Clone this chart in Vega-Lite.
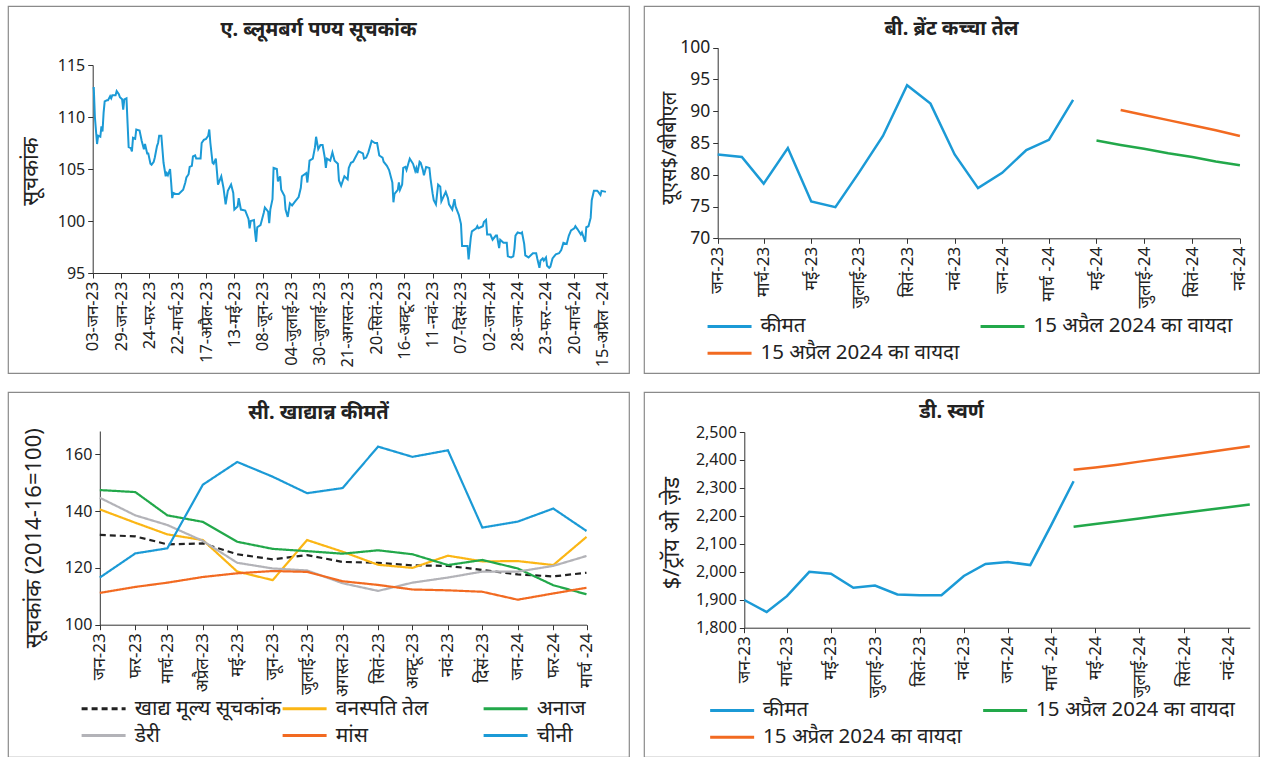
{
  "$schema": "https://vega.github.io/schema/vega-lite/v6.json",
  "background": "white",
  "padding": {"left": 7, "top": 5, "right": 0, "bottom": 0},
  "columns": 2,
  "spacing": {"row": 19, "column": 15},
  "bounds": "flush",
  "align": "each",
  "resolve": {"scale": {"color": "independent", "strokeDash": "independent"}, "legend": {"color": "independent", "strokeDash": "independent"}},
  "config": {
    "view": {"stroke": "#8a8a8a", "strokeWidth": 1.2},
    "font": "Noto Sans",
    "axis": {"grid": false, "domainColor": "#333333", "tickColor": "#333333", "labelColor": "#222222", "labelFont": "Liberation Sans Narrow, Noto Sans", "labelFontSize": 15, "titleFont": "Noto Sans", "titleFontWeight": "normal", "titleFontSize": 20, "titleColor": "#222222", "tickSize": 5, "labelFlush": false, "labelOverlap": false, "labelPadding": 3},
    "legend": {"labelFont": "Noto Sans", "labelColor": "#222222", "labelFontSize": 20.5, "symbolType": "M-3,0H3", "symbolSize": 215, "symbolStrokeWidth": 3, "labelOffset": 20.7, "padding": 0, "gridAlign": "all", "labelLimit": 400, "direction": "horizontal"},
    "title": {"font": "Noto Sans", "fontSize": 20, "fontWeight": "bold", "color": "#222222", "anchor": "middle", "baseline": "middle"}
  },
  "datasets": {
    "bloomberg": [
      {"date": "2023-01-03", "value": 112.8}, {"date": "2023-01-04", "value": 112.8}, {"date": "2023-01-05", "value": 110.0}, {"date": "2023-01-07", "value": 107.4}, {"date": "2023-01-08", "value": 108.2}, {"date": "2023-01-10", "value": 108.1}, {"date": "2023-01-11", "value": 109.1}, {"date": "2023-01-12", "value": 108.6}, {"date": "2023-01-13", "value": 110.4}, {"date": "2023-01-14", "value": 111.5}, {"date": "2023-01-16", "value": 111.6}, {"date": "2023-01-17", "value": 111.6}, {"date": "2023-01-19", "value": 112.0}, {"date": "2023-01-20", "value": 111.8}, {"date": "2023-01-21", "value": 112.1}, {"date": "2023-01-24", "value": 112.1}, {"date": "2023-01-25", "value": 112.5}, {"date": "2023-01-27", "value": 112.2}, {"date": "2023-01-28", "value": 111.9}, {"date": "2023-01-30", "value": 111.7}, {"date": "2023-01-31", "value": 110.7},
      {"date": "2023-02-01", "value": 111.7}, {"date": "2023-02-03", "value": 111.8}, {"date": "2023-02-04", "value": 109.4}, {"date": "2023-02-05", "value": 107.1}, {"date": "2023-02-07", "value": 107.0}, {"date": "2023-02-08", "value": 106.7}, {"date": "2023-02-09", "value": 108.0}, {"date": "2023-02-11", "value": 107.9}, {"date": "2023-02-12", "value": 108.8}, {"date": "2023-02-15", "value": 108.7}, {"date": "2023-02-17", "value": 107.7}, {"date": "2023-02-19", "value": 106.9}, {"date": "2023-02-20", "value": 107.4}, {"date": "2023-02-22", "value": 106.5}, {"date": "2023-02-23", "value": 106.5}, {"date": "2023-02-25", "value": 105.5}, {"date": "2023-02-26", "value": 105.4}, {"date": "2023-02-28", "value": 105.7},
      {"date": "2023-03-01", "value": 106.1}, {"date": "2023-03-03", "value": 107.2}, {"date": "2023-03-04", "value": 107.5}, {"date": "2023-03-05", "value": 108.2}, {"date": "2023-03-07", "value": 108.2}, {"date": "2023-03-09", "value": 105.6}, {"date": "2023-03-11", "value": 104.3}, {"date": "2023-03-12", "value": 104.6}, {"date": "2023-03-13", "value": 104.4}, {"date": "2023-03-15", "value": 105.0}, {"date": "2023-03-16", "value": 103.7}, {"date": "2023-03-17", "value": 102.2}, {"date": "2023-03-18", "value": 102.7}, {"date": "2023-03-20", "value": 102.6}, {"date": "2023-03-23", "value": 102.6}, {"date": "2023-03-26", "value": 102.9}, {"date": "2023-03-27", "value": 103.0}, {"date": "2023-03-29", "value": 103.7}, {"date": "2023-03-30", "value": 104.2},
      {"date": "2023-04-01", "value": 104.5}, {"date": "2023-04-02", "value": 105.2}, {"date": "2023-04-04", "value": 105.3}, {"date": "2023-04-05", "value": 106.2}, {"date": "2023-04-07", "value": 106.3}, {"date": "2023-04-08", "value": 106.0}, {"date": "2023-04-12", "value": 106.0}, {"date": "2023-04-13", "value": 107.5}, {"date": "2023-04-15", "value": 107.8}, {"date": "2023-04-17", "value": 107.9}, {"date": "2023-04-19", "value": 108.2}, {"date": "2023-04-20", "value": 108.8}, {"date": "2023-04-21", "value": 107.5}, {"date": "2023-04-23", "value": 105.6}, {"date": "2023-04-24", "value": 105.5}, {"date": "2023-04-26", "value": 106.0}, {"date": "2023-04-27", "value": 104.8}, {"date": "2023-04-28", "value": 103.5},
      {"date": "2023-05-01", "value": 104.3}, {"date": "2023-05-03", "value": 103.2}, {"date": "2023-05-05", "value": 101.6}, {"date": "2023-05-07", "value": 102.9}, {"date": "2023-05-10", "value": 103.5}, {"date": "2023-05-12", "value": 102.7}, {"date": "2023-05-13", "value": 101.1}, {"date": "2023-05-16", "value": 101.4}, {"date": "2023-05-17", "value": 102.2}, {"date": "2023-05-19", "value": 101.1}, {"date": "2023-05-23", "value": 101.0}, {"date": "2023-05-26", "value": 100.2}, {"date": "2023-05-27", "value": 99.3}, {"date": "2023-05-28", "value": 100.0}, {"date": "2023-05-31", "value": 100.1},
      {"date": "2023-06-01", "value": 98.9}, {"date": "2023-06-02", "value": 98.0}, {"date": "2023-06-03", "value": 99.4}, {"date": "2023-06-06", "value": 99.6}, {"date": "2023-06-09", "value": 100.8}, {"date": "2023-06-10", "value": 101.3}, {"date": "2023-06-13", "value": 100.9}, {"date": "2023-06-14", "value": 99.8}, {"date": "2023-06-15", "value": 101.1}, {"date": "2023-06-17", "value": 102.1}, {"date": "2023-06-18", "value": 105.1}, {"date": "2023-06-21", "value": 105.0}, {"date": "2023-06-22", "value": 103.8}, {"date": "2023-06-24", "value": 104.3}, {"date": "2023-06-25", "value": 103.0}, {"date": "2023-06-28", "value": 102.4}, {"date": "2023-06-29", "value": 101.1},
      {"date": "2023-07-01", "value": 100.4}, {"date": "2023-07-03", "value": 101.7}, {"date": "2023-07-05", "value": 101.5}, {"date": "2023-07-08", "value": 101.9}, {"date": "2023-07-11", "value": 102.3}, {"date": "2023-07-13", "value": 103.2}, {"date": "2023-07-14", "value": 104.3}, {"date": "2023-07-18", "value": 104.6}, {"date": "2023-07-19", "value": 103.7}, {"date": "2023-07-20", "value": 104.7}, {"date": "2023-07-21", "value": 105.8}, {"date": "2023-07-24", "value": 106.0}, {"date": "2023-07-26", "value": 107.1}, {"date": "2023-07-27", "value": 108.1}, {"date": "2023-07-28", "value": 107.5}, {"date": "2023-07-29", "value": 106.9}, {"date": "2023-07-31", "value": 107.3},
      {"date": "2023-08-02", "value": 107.3}, {"date": "2023-08-04", "value": 106.1}, {"date": "2023-08-05", "value": 105.1}, {"date": "2023-08-06", "value": 106.0}, {"date": "2023-08-09", "value": 105.8}, {"date": "2023-08-11", "value": 106.6}, {"date": "2023-08-13", "value": 105.8}, {"date": "2023-08-16", "value": 105.5}, {"date": "2023-08-17", "value": 103.9}, {"date": "2023-08-19", "value": 103.4}, {"date": "2023-08-22", "value": 104.3}, {"date": "2023-08-25", "value": 104.0}, {"date": "2023-08-26", "value": 105.1}, {"date": "2023-08-28", "value": 105.6}, {"date": "2023-08-30", "value": 105.7},
      {"date": "2023-09-01", "value": 106.1}, {"date": "2023-09-04", "value": 106.7}, {"date": "2023-09-08", "value": 106.5}, {"date": "2023-09-09", "value": 106.0}, {"date": "2023-09-11", "value": 106.1}, {"date": "2023-09-13", "value": 106.6}, {"date": "2023-09-16", "value": 107.7}, {"date": "2023-09-19", "value": 107.5}, {"date": "2023-09-21", "value": 107.5}, {"date": "2023-09-23", "value": 106.3}, {"date": "2023-09-26", "value": 106.1}, {"date": "2023-09-27", "value": 105.7}, {"date": "2023-09-30", "value": 105.3},
      {"date": "2023-10-02", "value": 104.9}, {"date": "2023-10-05", "value": 103.7}, {"date": "2023-10-06", "value": 101.8}, {"date": "2023-10-07", "value": 102.6}, {"date": "2023-10-10", "value": 103.0}, {"date": "2023-10-11", "value": 103.7}, {"date": "2023-10-12", "value": 103.0}, {"date": "2023-10-14", "value": 103.5}, {"date": "2023-10-15", "value": 105.1}, {"date": "2023-10-17", "value": 105.2}, {"date": "2023-10-18", "value": 104.9}, {"date": "2023-10-21", "value": 106.0}, {"date": "2023-10-24", "value": 105.5}, {"date": "2023-10-26", "value": 104.8}, {"date": "2023-10-27", "value": 105.1}, {"date": "2023-10-28", "value": 104.6}, {"date": "2023-10-30", "value": 105.7}, {"date": "2023-10-31", "value": 105.6},
      {"date": "2023-11-02", "value": 104.9}, {"date": "2023-11-03", "value": 104.4}, {"date": "2023-11-05", "value": 105.2}, {"date": "2023-11-08", "value": 105.1}, {"date": "2023-11-09", "value": 104.1}, {"date": "2023-11-11", "value": 102.6}, {"date": "2023-11-12", "value": 102.0}, {"date": "2023-11-14", "value": 101.6}, {"date": "2023-11-16", "value": 103.5}, {"date": "2023-11-18", "value": 103.3}, {"date": "2023-11-19", "value": 101.9}, {"date": "2023-11-23", "value": 102.8}, {"date": "2023-11-25", "value": 102.2}, {"date": "2023-11-26", "value": 101.6}, {"date": "2023-11-29", "value": 101.1},
      {"date": "2023-12-01", "value": 102.1}, {"date": "2023-12-02", "value": 101.4}, {"date": "2023-12-05", "value": 100.6}, {"date": "2023-12-07", "value": 99.7}, {"date": "2023-12-08", "value": 97.6}, {"date": "2023-12-11", "value": 97.6}, {"date": "2023-12-13", "value": 97.6}, {"date": "2023-12-14", "value": 96.3}, {"date": "2023-12-16", "value": 98.4}, {"date": "2023-12-17", "value": 99.0}, {"date": "2023-12-21", "value": 99.3}, {"date": "2023-12-22", "value": 99.5}, {"date": "2023-12-23", "value": 99.3}, {"date": "2023-12-25", "value": 99.4}, {"date": "2023-12-27", "value": 99.5}, {"date": "2023-12-28", "value": 99.9}, {"date": "2023-12-30", "value": 100.1}, {"date": "2023-12-31", "value": 98.7},
      {"date": "2024-01-03", "value": 98.7}, {"date": "2024-01-05", "value": 98.2}, {"date": "2024-01-08", "value": 98.6}, {"date": "2024-01-09", "value": 98.6}, {"date": "2024-01-11", "value": 97.4}, {"date": "2024-01-12", "value": 98.2}, {"date": "2024-01-15", "value": 97.9}, {"date": "2024-01-18", "value": 97.9}, {"date": "2024-01-19", "value": 96.6}, {"date": "2024-01-22", "value": 96.5}, {"date": "2024-01-24", "value": 96.6}, {"date": "2024-01-25", "value": 97.3}, {"date": "2024-01-26", "value": 98.6}, {"date": "2024-01-28", "value": 98.9}, {"date": "2024-01-31", "value": 98.8},
      {"date": "2024-02-01", "value": 98.9}, {"date": "2024-02-03", "value": 97.8}, {"date": "2024-02-04", "value": 96.7}, {"date": "2024-02-07", "value": 96.5}, {"date": "2024-02-11", "value": 96.9}, {"date": "2024-02-14", "value": 96.9}, {"date": "2024-02-15", "value": 96.4}, {"date": "2024-02-17", "value": 95.5}, {"date": "2024-02-18", "value": 96.2}, {"date": "2024-02-20", "value": 96.4}, {"date": "2024-02-21", "value": 96.2}, {"date": "2024-02-23", "value": 96.5}, {"date": "2024-02-24", "value": 95.7}, {"date": "2024-02-26", "value": 95.5}, {"date": "2024-02-27", "value": 95.6}, {"date": "2024-02-29", "value": 96.4},
      {"date": "2024-03-03", "value": 96.8}, {"date": "2024-03-06", "value": 96.9}, {"date": "2024-03-08", "value": 97.2}, {"date": "2024-03-10", "value": 97.9}, {"date": "2024-03-13", "value": 97.8}, {"date": "2024-03-15", "value": 98.6}, {"date": "2024-03-17", "value": 99.1}, {"date": "2024-03-20", "value": 99.3}, {"date": "2024-03-21", "value": 99.5}, {"date": "2024-03-23", "value": 99.2}, {"date": "2024-03-26", "value": 98.7}, {"date": "2024-03-27", "value": 98.9}, {"date": "2024-03-30", "value": 98.0}, {"date": "2024-03-31", "value": 99.4},
      {"date": "2024-04-02", "value": 99.5}, {"date": "2024-04-04", "value": 100.3}, {"date": "2024-04-05", "value": 102.0}, {"date": "2024-04-07", "value": 102.9}, {"date": "2024-04-10", "value": 102.9}, {"date": "2024-04-11", "value": 102.8}, {"date": "2024-04-13", "value": 102.5}, {"date": "2024-04-14", "value": 102.9}, {"date": "2024-04-18", "value": 102.8}
    ],
    "brent": [
      {"month": "2023-01-01", "series": "कीमत", "value": 83.2}, {"month": "2023-02-01", "series": "कीमत", "value": 82.8}, {"month": "2023-03-01", "series": "कीमत", "value": 78.6}, {"month": "2023-04-01", "series": "कीमत", "value": 84.2}, {"month": "2023-05-01", "series": "कीमत", "value": 75.8}, {"month": "2023-06-01", "series": "कीमत", "value": 74.9}, {"month": "2023-07-01", "series": "कीमत", "value": 80.3}, {"month": "2023-08-01", "series": "कीमत", "value": 86.1}, {"month": "2023-09-01", "series": "कीमत", "value": 94.1}, {"month": "2023-10-01", "series": "कीमत", "value": 91.2}, {"month": "2023-11-01", "series": "कीमत", "value": 83.2}, {"month": "2023-12-01", "series": "कीमत", "value": 77.9}, {"month": "2024-01-01", "series": "कीमत", "value": 80.3}, {"month": "2024-02-01", "series": "कीमत", "value": 83.9}, {"month": "2024-03-01", "series": "कीमत", "value": 85.5}, {"month": "2024-04-01", "series": "कीमत", "value": 91.8},
      {"month": "2024-05-01", "series": "वायदा (क)", "value": 85.4}, {"month": "2024-06-01", "series": "वायदा (क)", "value": 84.7}, {"month": "2024-07-01", "series": "वायदा (क)", "value": 84.1}, {"month": "2024-08-01", "series": "वायदा (क)", "value": 83.4}, {"month": "2024-09-01", "series": "वायदा (क)", "value": 82.8}, {"month": "2024-10-01", "series": "वायदा (क)", "value": 82.1}, {"month": "2024-11-01", "series": "वायदा (क)", "value": 81.5},
      {"month": "2024-06-01", "series": "वायदा (ख)", "value": 90.2}, {"month": "2024-07-01", "series": "वायदा (ख)", "value": 89.4}, {"month": "2024-08-01", "series": "वायदा (ख)", "value": 88.6}, {"month": "2024-09-01", "series": "वायदा (ख)", "value": 87.8}, {"month": "2024-10-01", "series": "वायदा (ख)", "value": 87.0}, {"month": "2024-11-01", "series": "वायदा (ख)", "value": 86.1}
    ],
    "food": [
      {"month": "2023-01-01", "series": "खाद्य मूल्य सूचकांक", "value": 131.6}, {"month": "2023-02-01", "series": "खाद्य मूल्य सूचकांक", "value": 131.1}, {"month": "2023-03-01", "series": "खाद्य मूल्य सूचकांक", "value": 128.3}, {"month": "2023-04-01", "series": "खाद्य मूल्य सूचकांक", "value": 128.6}, {"month": "2023-05-01", "series": "खाद्य मूल्य सूचकांक", "value": 124.8}, {"month": "2023-06-01", "series": "खाद्य मूल्य सूचकांक", "value": 123.0}, {"month": "2023-07-01", "series": "खाद्य मूल्य सूचकांक", "value": 124.5}, {"month": "2023-08-01", "series": "खाद्य मूल्य सूचकांक", "value": 122.1}, {"month": "2023-09-01", "series": "खाद्य मूल्य सूचकांक", "value": 121.8}, {"month": "2023-10-01", "series": "खाद्य मूल्य सूचकांक", "value": 120.9}, {"month": "2023-11-01", "series": "खाद्य मूल्य सूचकांक", "value": 120.7}, {"month": "2023-12-01", "series": "खाद्य मूल्य सूचकांक", "value": 119.3}, {"month": "2024-01-01", "series": "खाद्य मूल्य सूचकांक", "value": 117.7}, {"month": "2024-02-01", "series": "खाद्य मूल्य सूचकांक", "value": 117.0}, {"month": "2024-03-01", "series": "खाद्य मूल्य सूचकांक", "value": 118.3},
      {"month": "2023-01-01", "series": "वनस्पति तेल", "value": 140.6}, {"month": "2023-02-01", "series": "वनस्पति तेल", "value": 135.9}, {"month": "2023-03-01", "series": "वनस्पति तेल", "value": 131.8}, {"month": "2023-04-01", "series": "वनस्पति तेल", "value": 129.8}, {"month": "2023-05-01", "series": "वनस्पति तेल", "value": 118.7}, {"month": "2023-06-01", "series": "वनस्पति तेल", "value": 115.7}, {"month": "2023-07-01", "series": "वनस्पति तेल", "value": 129.8}, {"month": "2023-08-01", "series": "वनस्पति तेल", "value": 125.7}, {"month": "2023-09-01", "series": "वनस्पति तेल", "value": 121.1}, {"month": "2023-10-01", "series": "वनस्पति तेल", "value": 120.0}, {"month": "2023-11-01", "series": "वनस्पति तेल", "value": 124.3}, {"month": "2023-12-01", "series": "वनस्पति तेल", "value": 122.3}, {"month": "2024-01-01", "series": "वनस्पति तेल", "value": 122.4}, {"month": "2024-02-01", "series": "वनस्पति तेल", "value": 121.0}, {"month": "2024-03-01", "series": "वनस्पति तेल", "value": 130.9},
      {"month": "2023-01-01", "series": "अनाज", "value": 147.4}, {"month": "2023-02-01", "series": "अनाज", "value": 146.7}, {"month": "2023-03-01", "series": "अनाज", "value": 138.5}, {"month": "2023-04-01", "series": "अनाज", "value": 136.2}, {"month": "2023-05-01", "series": "अनाज", "value": 129.2}, {"month": "2023-06-01", "series": "अनाज", "value": 126.7}, {"month": "2023-07-01", "series": "अनाज", "value": 125.9}, {"month": "2023-08-01", "series": "अनाज", "value": 125.0}, {"month": "2023-09-01", "series": "अनाज", "value": 126.2}, {"month": "2023-10-01", "series": "अनाज", "value": 124.8}, {"month": "2023-11-01", "series": "अनाज", "value": 121.0}, {"month": "2023-12-01", "series": "अनाज", "value": 122.8}, {"month": "2024-01-01", "series": "अनाज", "value": 119.8}, {"month": "2024-02-01", "series": "अनाज", "value": 113.9}, {"month": "2024-03-01", "series": "अनाज", "value": 110.7},
      {"month": "2023-01-01", "series": "डेरी", "value": 144.7}, {"month": "2023-02-01", "series": "डेरी", "value": 138.5}, {"month": "2023-03-01", "series": "डेरी", "value": 135.1}, {"month": "2023-04-01", "series": "डेरी", "value": 129.5}, {"month": "2023-05-01", "series": "डेरी", "value": 121.8}, {"month": "2023-06-01", "series": "डेरी", "value": 119.8}, {"month": "2023-07-01", "series": "डेरी", "value": 119.1}, {"month": "2023-08-01", "series": "डेरी", "value": 114.6}, {"month": "2023-09-01", "series": "डेरी", "value": 111.9}, {"month": "2023-10-01", "series": "डेरी", "value": 114.8}, {"month": "2023-11-01", "series": "डेरी", "value": 116.6}, {"month": "2023-12-01", "series": "डेरी", "value": 118.7}, {"month": "2024-01-01", "series": "डेरी", "value": 118.7}, {"month": "2024-02-01", "series": "डेरी", "value": 120.7}, {"month": "2024-03-01", "series": "डेरी", "value": 124.2},
      {"month": "2023-01-01", "series": "मांस", "value": 111.2}, {"month": "2023-02-01", "series": "मांस", "value": 113.3}, {"month": "2023-03-01", "series": "मांस", "value": 114.8}, {"month": "2023-04-01", "series": "मांस", "value": 116.8}, {"month": "2023-05-01", "series": "मांस", "value": 118.1}, {"month": "2023-06-01", "series": "मांस", "value": 118.9}, {"month": "2023-07-01", "series": "मांस", "value": 118.6}, {"month": "2023-08-01", "series": "मांस", "value": 115.3}, {"month": "2023-09-01", "series": "मांस", "value": 114.0}, {"month": "2023-10-01", "series": "मांस", "value": 112.4}, {"month": "2023-11-01", "series": "मांस", "value": 112.1}, {"month": "2023-12-01", "series": "मांस", "value": 111.6}, {"month": "2024-01-01", "series": "मांस", "value": 108.8}, {"month": "2024-02-01", "series": "मांस", "value": 111.0}, {"month": "2024-03-01", "series": "मांस", "value": 113.0},
      {"month": "2023-01-01", "series": "चीनी", "value": 116.6}, {"month": "2023-02-01", "series": "चीनी", "value": 125.1}, {"month": "2023-03-01", "series": "चीनी", "value": 126.9}, {"month": "2023-04-01", "series": "चीनी", "value": 149.3}, {"month": "2023-05-01", "series": "चीनी", "value": 157.3}, {"month": "2023-06-01", "series": "चीनी", "value": 152.1}, {"month": "2023-07-01", "series": "चीनी", "value": 146.3}, {"month": "2023-08-01", "series": "चीनी", "value": 148.1}, {"month": "2023-09-01", "series": "चीनी", "value": 162.7}, {"month": "2023-10-01", "series": "चीनी", "value": 159.1}, {"month": "2023-11-01", "series": "चीनी", "value": 161.4}, {"month": "2023-12-01", "series": "चीनी", "value": 134.2}, {"month": "2024-01-01", "series": "चीनी", "value": 136.3}, {"month": "2024-02-01", "series": "चीनी", "value": 140.9}, {"month": "2024-03-01", "series": "चीनी", "value": 133.0}
    ],
    "gold": [
      {"month": "2023-01-01", "series": "कीमत", "value": 1899}, {"month": "2023-02-01", "series": "कीमत", "value": 1856}, {"month": "2023-03-01", "series": "कीमत", "value": 1913}, {"month": "2023-04-01", "series": "कीमत", "value": 2000}, {"month": "2023-05-01", "series": "कीमत", "value": 1993}, {"month": "2023-06-01", "series": "कीमत", "value": 1943}, {"month": "2023-07-01", "series": "कीमत", "value": 1951}, {"month": "2023-08-01", "series": "कीमत", "value": 1919}, {"month": "2023-09-01", "series": "कीमत", "value": 1916}, {"month": "2023-10-01", "series": "कीमत", "value": 1916}, {"month": "2023-11-01", "series": "कीमत", "value": 1985}, {"month": "2023-12-01", "series": "कीमत", "value": 2028}, {"month": "2024-01-01", "series": "कीमत", "value": 2035}, {"month": "2024-02-01", "series": "कीमत", "value": 2024}, {"month": "2024-03-01", "series": "कीमत", "value": 2167}, {"month": "2024-04-01", "series": "कीमत", "value": 2324},
      {"month": "2024-04-01", "series": "वायदा (क)", "value": 2161}, {"month": "2024-05-01", "series": "वायदा (क)", "value": 2171}, {"month": "2024-06-01", "series": "वायदा (क)", "value": 2181}, {"month": "2024-07-01", "series": "वायदा (क)", "value": 2191}, {"month": "2024-08-01", "series": "वायदा (क)", "value": 2201}, {"month": "2024-09-01", "series": "वायदा (क)", "value": 2211}, {"month": "2024-10-01", "series": "वायदा (क)", "value": 2221}, {"month": "2024-11-01", "series": "वायदा (क)", "value": 2231}, {"month": "2024-12-01", "series": "वायदा (क)", "value": 2241},
      {"month": "2024-04-01", "series": "वायदा (ख)", "value": 2365}, {"month": "2024-05-01", "series": "वायदा (ख)", "value": 2373}, {"month": "2024-06-01", "series": "वायदा (ख)", "value": 2383}, {"month": "2024-07-01", "series": "वायदा (ख)", "value": 2394}, {"month": "2024-08-01", "series": "वायदा (ख)", "value": 2405}, {"month": "2024-09-01", "series": "वायदा (ख)", "value": 2416}, {"month": "2024-10-01", "series": "वायदा (ख)", "value": 2427}, {"month": "2024-11-01", "series": "वायदा (ख)", "value": 2438}, {"month": "2024-12-01", "series": "वायदा (ख)", "value": 2449}
    ]
  },
  "concat": [
    {
      "width": 621, "height": 367,
      "title": {"text": "ए. ब्लूमबर्ग पण्य सूचकांक", "offset": -34},
      "data": {"name": "bloomberg"},
      "mark": {"type": "line", "color": "#1b9ad6", "strokeWidth": 2},
      "encoding": {
        "x": {"field": "date", "type": "temporal",
          "scale": {"type": "utc", "domain": [{"year": 2023, "month": 1, "date": 3, "utc": true}, {"year": 2024, "month": 4, "date": 19, "utc": true}], "range": [84.7, 599]},
          "axis": {"title": null, "offset": -100, "labelAngle": 270, "labelFontSize": 16.5,
            "values": [{"year": 2023, "month": 1, "date": 3, "utc": true}, {"year": 2023, "month": 1, "date": 29, "utc": true}, {"year": 2023, "month": 2, "date": 24, "utc": true}, {"year": 2023, "month": 3, "date": 22, "utc": true}, {"year": 2023, "month": 4, "date": 17, "utc": true}, {"year": 2023, "month": 5, "date": 13, "utc": true}, {"year": 2023, "month": 6, "date": 8, "utc": true}, {"year": 2023, "month": 7, "date": 4, "utc": true}, {"year": 2023, "month": 7, "date": 30, "utc": true}, {"year": 2023, "month": 8, "date": 25, "utc": true}, {"year": 2023, "month": 9, "date": 20, "utc": true}, {"year": 2023, "month": 10, "date": 16, "utc": true}, {"year": 2023, "month": 11, "date": 11, "utc": true}, {"year": 2023, "month": 12, "date": 7, "utc": true}, {"year": 2024, "month": 1, "date": 2, "utc": true}, {"year": 2024, "month": 1, "date": 28, "utc": true}, {"year": 2024, "month": 2, "date": 23, "utc": true}, {"year": 2024, "month": 3, "date": 20, "utc": true}, {"year": 2024, "month": 4, "date": 15, "utc": true}],
            "labelExpr": "['03-जन-23','29-जन-23','24-फर-23','22-मार्च-23','17-अप्रैल-23','13-मई-23','08-जून-23','04-जुलाई-23','30-जुलाई-23','21-अगस्त-23','20-सितं-23','16-अक्टू-23','11-नवं-23','07-दिसं-23','02-जन-24','28-जन-24','23-फर--24','20-मार्च-24','15-अप्रैल -24'][round((datum.value - utc(2023,0,3)) / 2246400000)]"}},
        "y": {"field": "value", "type": "quantitative",
          "scale": {"domain": [95, 115], "range": [267, 59], "zero": false, "nice": false},
          "axis": {"title": "सूचकांक", "values": [95, 100, 105, 110, 115], "offset": -84.7, "labelFontSize": 16, "titleX": -61.7, "titleY": 165, "titleAngle": 270, "titleBaseline": "middle", "titleAlign": "center", "titleFontSize": 22}}
      }
    },
    {
      "width": 615, "height": 367,
      "title": {"text": "बी. ब्रेंट कच्चा तेल", "offset": -33},
      "data": {"name": "brent"},
      "mark": {"type": "line", "strokeWidth": 2.5},
      "encoding": {
        "x": {"field": "month", "type": "temporal",
          "scale": {"type": "utc", "domain": [{"year": 2023, "month": 1, "date": 1, "utc": true}, {"year": 2024, "month": 11, "date": 1, "utc": true}], "range": [73.7, 595.9]},
          "axis": {"title": null, "offset": -134.7, "labelAngle": 270, "labelFontSize": 17,
            "values": [{"year": 2023, "month": 1, "date": 1, "utc": true}, {"year": 2023, "month": 3, "date": 1, "utc": true}, {"year": 2023, "month": 5, "date": 1, "utc": true}, {"year": 2023, "month": 7, "date": 1, "utc": true}, {"year": 2023, "month": 9, "date": 1, "utc": true}, {"year": 2023, "month": 11, "date": 1, "utc": true}, {"year": 2024, "month": 1, "date": 1, "utc": true}, {"year": 2024, "month": 3, "date": 1, "utc": true}, {"year": 2024, "month": 5, "date": 1, "utc": true}, {"year": 2024, "month": 7, "date": 1, "utc": true}, {"year": 2024, "month": 9, "date": 1, "utc": true}, {"year": 2024, "month": 11, "date": 1, "utc": true}],
            "labelExpr": "['जन','फर','मार्च','अप्रैल','मई','जून','जुलाई','अगस्त','सितं','अक्टू','नवं','दिसं'][utcmonth(datum.value)] + (datum.value == utc(2024,2,1) ? ' -' : '-') + utcFormat(datum.value, '%y')"}},
        "y": {"field": "value", "type": "quantitative",
          "scale": {"domain": [70, 100], "range": [232.3, 41.7], "zero": false, "nice": false},
          "axis": {"title": "यूएस$/बीबीएल", "values": [70, 75, 80, 85, 90, 95, 100], "offset": -73.7, "labelFontSize": 17.5, "titleX": -48.4, "titleY": 141.7, "titleAngle": 270, "titleBaseline": "middle", "titleAlign": "center", "titleFontSize": 20}},
        "color": {"field": "series", "type": "nominal",
          "scale": {"domain": ["कीमत", "वायदा (क)", "वायदा (ख)"], "range": ["#1b9ad6", "#22a84a", "#f26a21"]},
          "legend": {"title": null, "orient": "none", "legendX": 75.3, "legendY": 310, "columns": 2, "columnPadding": 15, "rowPadding": 6,
            "labelExpr": "datum.label == 'कीमत' ? 'कीमत' : '15 अप्रैल 2024 का वायदा'"}}
      }
    },
    {
      "width": 621, "height": 365,
      "title": {"text": "सी. खाद्यान्न कीमतें", "offset": -31},
      "data": {"name": "food"},
      "mark": {"type": "line", "strokeWidth": 2.2},
      "encoding": {
        "x": {"field": "month", "type": "temporal",
          "scale": {"type": "utc", "domain": [{"year": 2023, "month": 1, "date": 1, "utc": true}, {"year": 2024, "month": 3, "date": 1, "utc": true}], "range": [91.8, 578.5]},
          "axis": {"title": null, "offset": -132.3, "labelAngle": 270, "labelFontSize": 17,
            "values": [{"year": 2023, "month": 1, "date": 1, "utc": true}, {"year": 2023, "month": 2, "date": 1, "utc": true}, {"year": 2023, "month": 3, "date": 1, "utc": true}, {"year": 2023, "month": 4, "date": 1, "utc": true}, {"year": 2023, "month": 5, "date": 1, "utc": true}, {"year": 2023, "month": 6, "date": 1, "utc": true}, {"year": 2023, "month": 7, "date": 1, "utc": true}, {"year": 2023, "month": 8, "date": 1, "utc": true}, {"year": 2023, "month": 9, "date": 1, "utc": true}, {"year": 2023, "month": 10, "date": 1, "utc": true}, {"year": 2023, "month": 11, "date": 1, "utc": true}, {"year": 2023, "month": 12, "date": 1, "utc": true}, {"year": 2024, "month": 1, "date": 1, "utc": true}, {"year": 2024, "month": 2, "date": 1, "utc": true}, {"year": 2024, "month": 3, "date": 1, "utc": true}],
            "labelExpr": "['जन','फर','मार्च','अप्रैल','मई','जून','जुलाई','अगस्त','सितं','अक्टू','नवं','दिसं'][utcmonth(datum.value)] + (datum.value == utc(2024,2,1) ? ' -' : '-') + utcFormat(datum.value, '%y')"}},
        "y": {"field": "value", "type": "quantitative",
          "scale": {"domain": [100, 168.2], "range": [232.7, 39], "zero": false, "nice": false},
          "axis": {"title": "सूचकांक (2014-16=100)", "values": [100, 120, 140, 160], "offset": -91.8, "labelFontSize": 16, "titleX": -66.8, "titleY": 145.7, "titleAngle": 270, "titleBaseline": "middle", "titleAlign": "center", "titleFontSize": 22}},
        "color": {"field": "series", "type": "nominal",
          "scale": {"domain": ["खाद्य मूल्य सूचकांक", "वनस्पति तेल", "अनाज", "डेरी", "मांस", "चीनी"], "range": ["#222222", "#fbb615", "#22a84a", "#b3b3b8", "#f26a21", "#1b9ad6"]},
          "legend": {"title": null, "orient": "none", "legendX": 85.1, "legendY": 306, "columns": 3, "columnPadding": -6, "rowPadding": 5, "labelFontSize": 21}},
        "strokeDash": {"field": "series", "type": "nominal",
          "scale": {"domain": ["खाद्य मूल्य सूचकांक", "वनस्पति तेल", "अनाज", "डेरी", "मांस", "चीनी"], "range": [[6, 4], [1, 0], [1, 0], [1, 0], [1, 0], [1, 0]]},
          "legend": {"title": null, "orient": "none", "legendX": 85.1, "legendY": 306, "columns": 3, "columnPadding": -6, "rowPadding": 5, "labelFontSize": 21}}
      }
    },
    {
      "width": 615, "height": 365,
      "title": {"text": "डी. स्वर्ण", "offset": -30},
      "data": {"name": "gold"},
      "mark": {"type": "line", "strokeWidth": 2.5},
      "encoding": {
        "x": {"field": "month", "type": "temporal",
          "scale": {"type": "utc", "domain": [{"year": 2023, "month": 1, "date": 1, "utc": true}, {"year": 2024, "month": 12, "date": 1, "utc": true}], "range": [100.3, 605.8]},
          "axis": {"title": null, "offset": -129.3, "labelAngle": 270, "labelFontSize": 17,
            "values": [{"year": 2023, "month": 1, "date": 1, "utc": true}, {"year": 2023, "month": 3, "date": 1, "utc": true}, {"year": 2023, "month": 5, "date": 1, "utc": true}, {"year": 2023, "month": 7, "date": 1, "utc": true}, {"year": 2023, "month": 9, "date": 1, "utc": true}, {"year": 2023, "month": 11, "date": 1, "utc": true}, {"year": 2024, "month": 1, "date": 1, "utc": true}, {"year": 2024, "month": 3, "date": 1, "utc": true}, {"year": 2024, "month": 5, "date": 1, "utc": true}, {"year": 2024, "month": 7, "date": 1, "utc": true}, {"year": 2024, "month": 9, "date": 1, "utc": true}, {"year": 2024, "month": 11, "date": 1, "utc": true}],
            "labelExpr": "['जन','फर','मार्च','अप्रैल','मई','जून','जुलाई','अगस्त','सितं','अक्टू','नवं','दिसं'][utcmonth(datum.value)] + (datum.value == utc(2024,2,1) ? ' -' : '-') + utcFormat(datum.value, '%y')"}},
        "y": {"field": "value", "type": "quantitative",
          "scale": {"domain": [1800, 2500], "range": [235.7, 40], "zero": false, "nice": false},
          "axis": {"title": "$/ट्रॉय ओ ज़ेड", "values": [1800, 1900, 2000, 2100, 2200, 2300, 2400, 2500], "format": ",.0f", "offset": -100.3, "labelFontSize": 16, "titleX": -73.3, "titleY": 140.7, "titleAngle": 270, "titleBaseline": "middle", "titleAlign": "center", "titleFontSize": 22}},
        "color": {"field": "series", "type": "nominal",
          "scale": {"domain": ["कीमत", "वायदा (क)", "वायदा (ख)"], "range": ["#1b9ad6", "#22a84a", "#f26a21"]},
          "legend": {"title": null, "orient": "none", "legendX": 77.9, "legendY": 308, "columns": 2, "columnPadding": 15, "rowPadding": 6,
            "labelExpr": "datum.label == 'कीमत' ? 'कीमत' : '15 अप्रैल 2024 का वायदा'"}}
      }
    }
  ]
}
